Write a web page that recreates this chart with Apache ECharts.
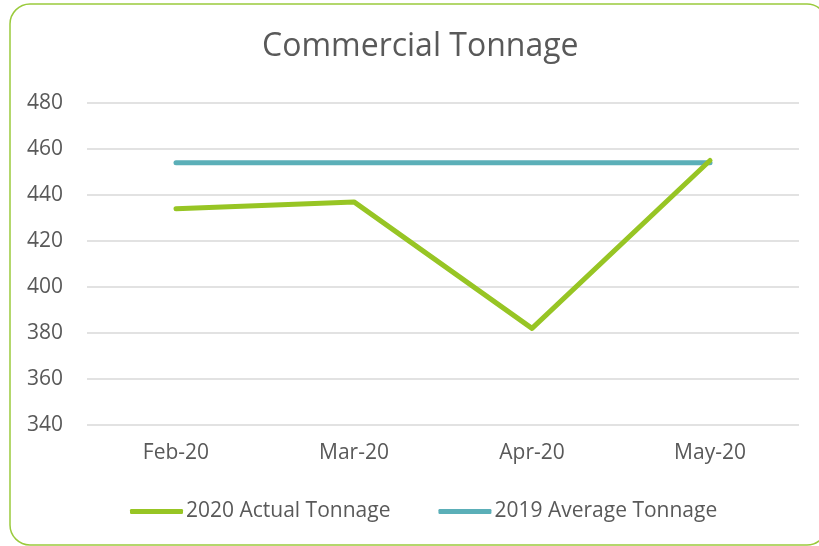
<!DOCTYPE html>
<html>
<head>
<meta charset="utf-8">
<script src="https://cdn.jsdelivr.net/npm/echarts@6/dist/echarts.min.js"></script>
<style>
  html, body { margin: 0; padding: 0; background: #fff; }
  #chart { width: 819px; height: 546px; }
</style>
</head>
<body>
<div id="chart"></div>
<script>
// months on the x axis
const months = ["Feb-20", "Mar-20", "Apr-20", "May-20"];
// tonnage values
const actual2020 = [434, 437, 382, 455];
const average2019 = [454, 454, 454, 454];
const seriesNames = ["2020 Actual Tonnage", "2019 Average Tonnage"];

const textColor = "#595959";
const fontName = "Open Sans";

const chart = echarts.init(document.getElementById("chart"));
chart.setOption({
  animation: false,
  title: {
    text: "Commercial Tonnage",
    left: 257,
    top: 26,
    textStyle: { fontFamily: fontName, fontSize: 32, fontWeight: "normal", color: textColor }
  },
  legend: {
    bottom: 19,
    left: 125,
    itemWidth: 53,
    itemHeight: 5,
    itemGap: 48,
    icon: "roundRect",
    textStyle: { fontFamily: fontName, fontSize: 21, color: textColor, padding: [0, 0, 0, -2] },
    data: seriesNames
  },
  grid: { left: 87, right: 20, top: 103, bottom: 121 },
  xAxis: {
    type: "category",
    data: months,
    boundaryGap: true,
    axisLine: { show: false },
    axisTick: { show: false },
    axisLabel: { fontFamily: fontName, fontSize: 21, color: textColor, margin: 18 }
  },
  yAxis: {
    type: "value",
    min: 340,
    max: 480,
    interval: 20,
    axisLine: { show: false },
    axisTick: { show: false },
    axisLabel: { fontFamily: fontName, fontSize: 21, color: textColor, margin: 24 },
    splitLine: { lineStyle: { color: "#D9D9D9", width: 1.5 } }
  },
  series: [
    {
      name: seriesNames[0],
      type: "line",
      data: actual2020,
      symbol: "none",
      color: "#97C524",
      z: 3,
      lineStyle: { width: 5, cap: "round", join: "round" }
    },
    {
      name: seriesNames[1],
      type: "line",
      data: average2019,
      symbol: "none",
      color: "#5BAFB8",
      z: 2,
      lineStyle: { width: 5, cap: "round", join: "round" }
    }
  ],
  graphic: [
    {
      type: "rect",
      silent: true,
      shape: { x: 10, y: 4, width: 817, height: 541, r: 20 },
      style: { fill: "none", stroke: "#9ACA3C", lineWidth: 1.5 }
    }
  ]
});
</script>
</body>
</html>
